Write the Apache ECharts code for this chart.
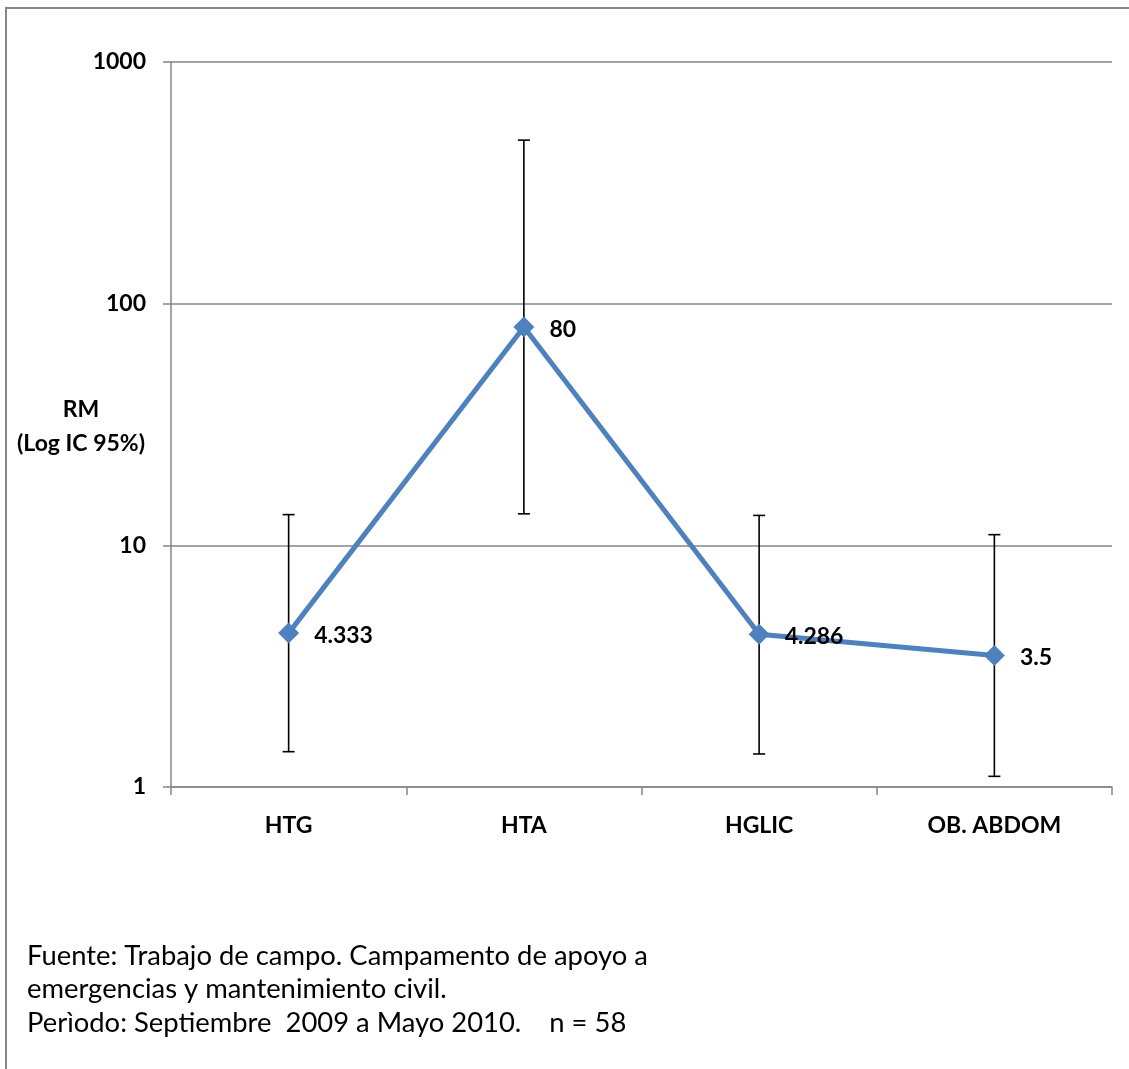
<!DOCTYPE html>
<html>
<head>
<meta charset="utf-8">
<script src="https://cdn.jsdelivr.net/npm/echarts@6/dist/echarts.min.js"></script>
<style>
html,body{margin:0;padding:0;background:#fff;}
#chart{width:1129px;height:1069px;}
</style>
</head>
<body>
<div id="chart"></div>
<script>
const categories = ['HTG', 'HTA', 'HGLIC', 'OB. ABDOM'];
const rmValues = [4.333, 80, 4.286, 3.5];
const ciLower = [1.4, 13.5, 1.37, 1.107];
const ciUpper = [13.4, 475, 13.3, 11.07];
const yTicks = [1, 10, 100, 1000];
const yTitleLines = ['RM', '(Log IC 95%)'];
const footnoteLines = [
  'Fuente: Trabajo de campo. Campamento de apoyo a',
  'emergencias y mantenimiento civil.',
  'Perìodo: Septiembre  2009 a Mayo 2010.    n = 58'
];

const FONT = 'Lato, "Open Sans", sans-serif';
const GRAY = '#868686';
const BLUE = '#4f81bd';
const LABEL_SIZE = 23;

const chart = echarts.init(document.getElementById('chart'));

const errData = categories.map((c, i) => [i, ciLower[i], ciUpper[i]]);

const option = {
  backgroundColor: '#fff',
  animation: false,
  grid: { left: 171, right: 17, top: 62, bottom: 282 },
  xAxis: {
    type: 'category',
    data: categories,
    boundaryGap: true,
    axisLine: { show: true, lineStyle: { color: GRAY, width: 1.5 } },
    axisTick: { show: true, length: 8, lineStyle: { color: GRAY, width: 1.5 } },
    axisLabel: { margin: 27, color: '#000', fontFamily: FONT, fontWeight: 'bold', fontSize: LABEL_SIZE }
  },
  yAxis: {
    type: 'log',
    logBase: 10,
    min: yTicks[0],
    max: yTicks[yTicks.length - 1],
    axisLine: { show: true, lineStyle: { color: GRAY, width: 1.5 } },
    axisTick: { show: true, length: 8, lineStyle: { color: GRAY, width: 1.5 } },
    splitLine: { show: true, lineStyle: { color: GRAY, width: 1.5 } },
    axisLabel: { margin: 25, color: '#000', fontFamily: FONT, fontWeight: 'bold', fontSize: LABEL_SIZE,
      formatter: v => String(Math.round(v)) }
  },
  series: [
    {
      type: 'custom',
      data: errData,
      z: 1,
      renderItem: function (params, api) {
        const x = api.value(0);
        const lo = api.coord([x, api.value(1)]);
        const hi = api.coord([x, api.value(2)]);
        const cap = 6;
        const style = { stroke: '#000', lineWidth: 1.6 };
        return {
          type: 'group',
          children: [
            { type: 'line', shape: { x1: lo[0], y1: lo[1], x2: hi[0], y2: hi[1] }, style: style },
            { type: 'line', shape: { x1: lo[0] - cap, y1: lo[1], x2: lo[0] + cap, y2: lo[1] }, style: style },
            { type: 'line', shape: { x1: hi[0] - cap, y1: hi[1], x2: hi[0] + cap, y2: hi[1] }, style: style }
          ]
        };
      },
      encode: { x: 0, y: [1, 2] }
    },
    {
      type: 'line',
      data: rmValues,
      z: 3,
      symbol: 'diamond',
      symbolSize: 21,
      lineStyle: { color: BLUE, width: 5 },
      itemStyle: { color: BLUE },
      label: {
        show: true,
        position: 'right',
        distance: 15,
        offset: [0, 2],
        color: '#000',
        fontFamily: FONT,
        fontWeight: 'bold',
        fontSize: LABEL_SIZE,
        formatter: p => String(p.value)
      }
    }
  ],
  graphic: [
    {
      type: 'rect',
      shape: { x: 6, y: 8, width: 1400, height: 1400 },
      style: { fill: 'none', stroke: GRAY, lineWidth: 2 },
      silent: true,
      z: -10
    },
    {
      type: 'text',
      style: {
        text: yTitleLines.join('\n'),
        x: 81, y: 393,
        textAlign: 'center',
        fill: '#000',
        font: 'bold 23px ' + FONT,
        lineHeight: 34
      }
    },
    {
      type: 'text',
      style: {
        text: footnoteLines.join('\n'),
        x: 27, y: 939,
        fill: '#000',
        font: '27.4px ' + FONT,
        lineHeight: 33.5
      }
    }
  ]
};
chart.setOption(option);
</script>
</body>
</html>
